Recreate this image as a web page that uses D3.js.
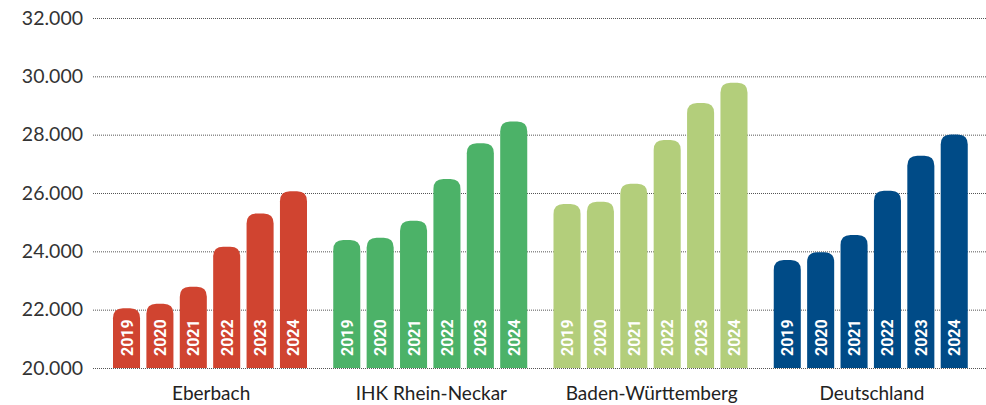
<!DOCTYPE html>
<html>
<head>
<meta charset="utf-8">
<script src="https://cdn.jsdelivr.net/npm/d3@7"></script>
<style>
  body { margin: 0; background: #fff; }
  svg { display: block; }
</style>
</head>
<body>
<div id="chart"></div>
<script>
// data
var regions = ['Eberbach', 'IHK Rhein-Neckar', 'Baden-Württemberg', 'Deutschland'];
var years = ['2019', '2020', '2021', '2022', '2023', '2024'];
var eberbach = [22050, 22200, 22790, 24160, 25300, 26060];
var ihk = [24390, 24470, 25050, 26480, 27710, 28450];
var bw = [25620, 25700, 26320, 27820, 29090, 29780];
var deutschland = [23700, 23970, 24560, 26080, 27280, 28010];
var yTicks = [20000, 22000, 24000, 26000, 28000, 30000, 32000];
var colors = ['#d04430', '#4cb268', '#b3ce7b', '#004b87'];

var series = [eberbach, ihk, bw, deutschland];

var width = 986, height = 405;
var plotLeft = 93, plotRight = 986;

var svg = d3.select('#chart').append('svg')
    .attr('width', width)
    .attr('height', height);

var y = d3.scaleLinear()
    .domain([20000, 32000])
    .range([368, 18]);

var x0 = d3.scaleBand()
    .domain(regions)
    .range([100, 981]);

var x1 = d3.scaleBand()
    .domain(years)
    .range([13, 207])
    .paddingInner(0.19);

var fmt = d3.formatLocale({decimal: ',', thousands: '.', grouping: [3], currency: ['', '€']}).format(',d');

// gridlines + tick labels
var axis = svg.append('g')
    .attr('transform', 'translate(' + plotLeft + ',0)')
    .call(d3.axisLeft(y).tickValues(yTicks).tickFormat(fmt).tickSize(-(plotRight - plotLeft)).tickPadding(10));
axis.select('.domain').remove();
axis.selectAll('.tick line')
    .attr('stroke', '#555')
    .attr('stroke-width', 1)
    .attr('stroke-dasharray', '1,1');
axis.selectAll('.tick text')
    .attr('fill', '#333')
    .style('font-family', 'Lato, "Open Sans", sans-serif')
    .style('font-size', '19.5px');

// rounded-top bar path
function barPath(x, yTop, w, yBase, r) {
    r = Math.min(r, w / 2, yBase - yTop);
    return 'M' + x + ',' + yBase +
        'V' + (yTop + r) +
        'Q' + x + ',' + yTop + ' ' + (x + r) + ',' + yTop +
        'H' + (x + w - r) +
        'Q' + (x + w) + ',' + yTop + ' ' + (x + w) + ',' + (yTop + r) +
        'V' + yBase + 'Z';
}

var groups = svg.selectAll('g.region')
    .data(regions)
    .enter()
        .append('g')
        .attr('class', 'region')
        .attr('transform', function(d){ return 'translate(' + x0(d) + ',0)'; });

groups.each(function(region, gi){
    var g = d3.select(this);
    var vals = series[gi].map(function(v, i){ return {year: years[i], value: v}; });

    g.selectAll('path.bar')
        .data(vals)
        .enter()
            .append('path')
            .attr('class', 'bar')
            .attr('fill', colors[gi])
            .attr('d', function(d){
                return barPath(x1(d.year), y(d.value), x1.bandwidth(), y(20000), 10);
            });

    g.selectAll('text.year')
        .data(vals)
        .enter()
            .append('text')
            .attr('class', 'year')
            .attr('transform', function(d){
                return 'translate(' + (x1(d.year) + x1.bandwidth() / 2 + 6) + ',' + (y(20000) - 12) + ') rotate(-90)';
            })
            .attr('fill', '#fff')
            .style('font-family', 'Roboto, sans-serif')
            .style('font-weight', 700)
            .style('font-size', '16px')
            .text(function(d){ return d.year; });

    g.append('text')
        .attr('x', x0.bandwidth() / 2 + 1)
        .attr('y', 400)
        .attr('text-anchor', 'middle')
        .attr('fill', '#222')
        .style('font-family', 'Lato, "Open Sans", sans-serif')
        .style('font-size', '19px')
        .text(region);
});
</script>
</body>
</html>
